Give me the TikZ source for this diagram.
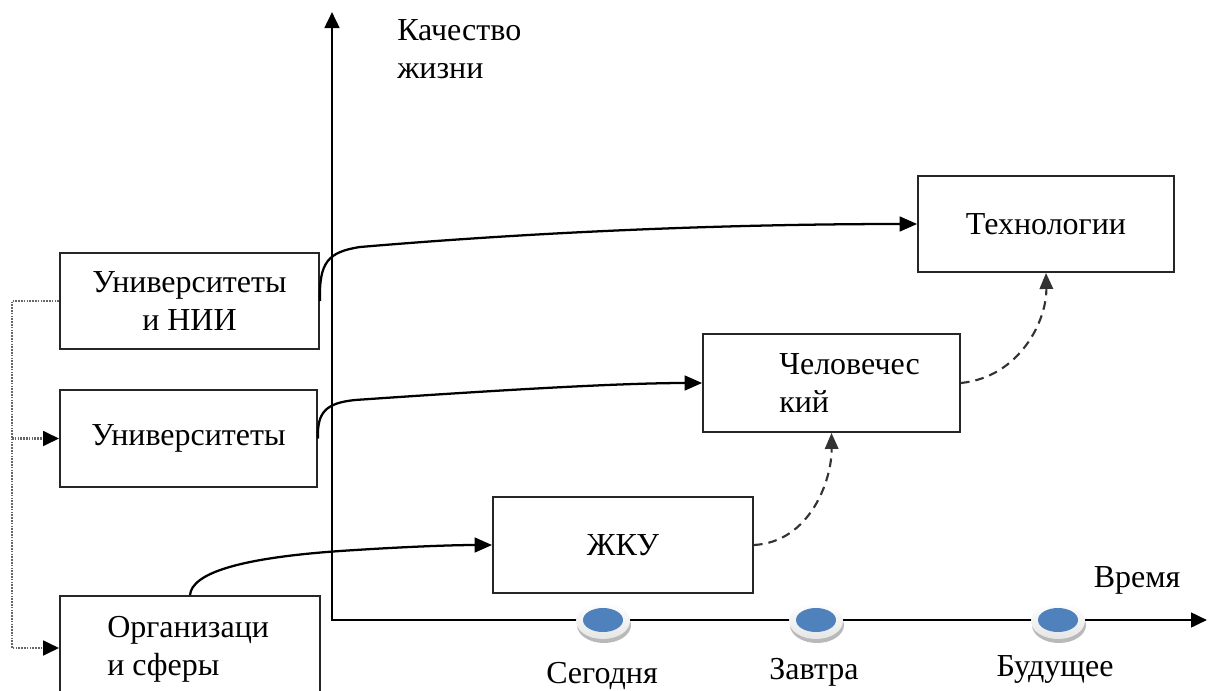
\documentclass[tikz,border=0pt]{standalone}
\usepackage{fontspec}
\setmainfont{Liberation Serif}
\newfontfamily\tnr{Liberation Serif}
\usetikzlibrary{arrows.meta,calc}
\definecolor{tblue}{RGB}{79,129,189}
\begin{document}
\begin{tikzpicture}[x=0.75pt,y=-0.75pt,
  every node/.style={font=\tnr\fontsize{24}{28.5}\selectfont, inner sep=0pt},
  box/.style={draw=black!85, line width=1.4pt, minimum height=96*0.75pt, minimum width=258*0.75pt, align=center},
  axisline/.style={line width=2pt, {Triangle[length=12pt,width=11pt]}-{Triangle[length=12pt,width=11pt]}},
  conn/.style={line width=1.7pt, -{Triangle[length=13pt,width=11pt]}},
  dconn/.style={line width=1.6pt, draw=black!80, dash pattern=on 6.5pt off 4.5pt, -{Triangle[length=12pt,width=10pt]}},
  dotc/.style={line width=2pt, draw=black!60, dash pattern=on 1.2pt off 0.9pt, -{Triangle[length=12pt,width=11pt,fill=black,color=black]}}
]
\useasboundingbox (0,0) rectangle (1208,690);
\clip (0,0) rectangle (1208,690);

% axes
\coordinate (O) at (332,620);
\coordinate (ytop) at (332,12);
\coordinate (xend) at (1207,620);
\draw[axisline] (ytop) -- (O) -- (xend);

\node[anchor=west, align=left] (ql) at (397,49) {Качество\\жизни};
\node[anchor=base] (tl) at (1137,587) {Время};

% time points
\foreach \ex in {603,816,1058} {
  \fill[gray!55] (\ex+1,625) ellipse [x radius=27, y radius=18];
  \shade[top color=white, bottom color=gray!20] (\ex,621) ellipse [x radius=27, y radius=18];
  \fill[tblue] (\ex,620) ellipse [x radius=20, y radius=12];
}
\node[anchor=base] (t1) at (602,683) {Сегодня};
\node[anchor=base] (t2) at (814,679) {Завтра};
\node[anchor=base] (t3) at (1055,676) {Будущее};

% boxes
\node[box, minimum width=259*0.75pt] (u1) at (189.5,301) {Университеты\\и НИИ};
\node[box, minimum width=257*0.75pt, minimum height=97*0.75pt] (u2) at (188.5,438.5) {Университеты};
\node[box, minimum width=260*0.75pt, minimum height=104*0.75pt] (org) at (190,648) {};
\node[anchor=west, align=left] (orgt) at (107,649.5) {Организаци\\и сферы};
\node[box, minimum width=260*0.75pt] (zhku) at (623,545) {ЖКУ};
\node[box, minimum width=257*0.75pt, minimum height=98*0.75pt] (hum) at (831.5,383) {};
\node[anchor=west, align=left] (humt) at (779,383.5) {Человечес\\кий};
\node[box, minimum width=256*0.75pt] (tech) at (1046,224) {Технологии};

% solid connectors
\draw[conn] (u1.east) .. controls (319,262) and (328,252) .. (360,247)
  .. controls (560,230) and (750,224) .. (tech.west);
\draw[conn] (u2.east) .. controls (317,412) and (326,403) .. (355,400)
  .. controls (500,390) and (620,383) .. (hum.west);
\draw[conn] (org.north) .. controls (192,573) and (240,558) .. (340,551)
  .. controls (400,547) and (450,545) .. (zhku.west);

% dashed connectors
\draw[dconn] (zhku.east) .. controls (810,542) and (832,480) .. (hum.south);
\draw[dconn] (hum.east) .. controls (1020,377) and (1047,320) .. (tech.south);

% dotted connectors
\coordinate (lx) at (12,301);
\draw[dotc] (u1.west) -- (lx) |- (org.west);
\draw[dotc] (lx |- u2.west) -- (u2.west);
\end{tikzpicture}
\end{document}
